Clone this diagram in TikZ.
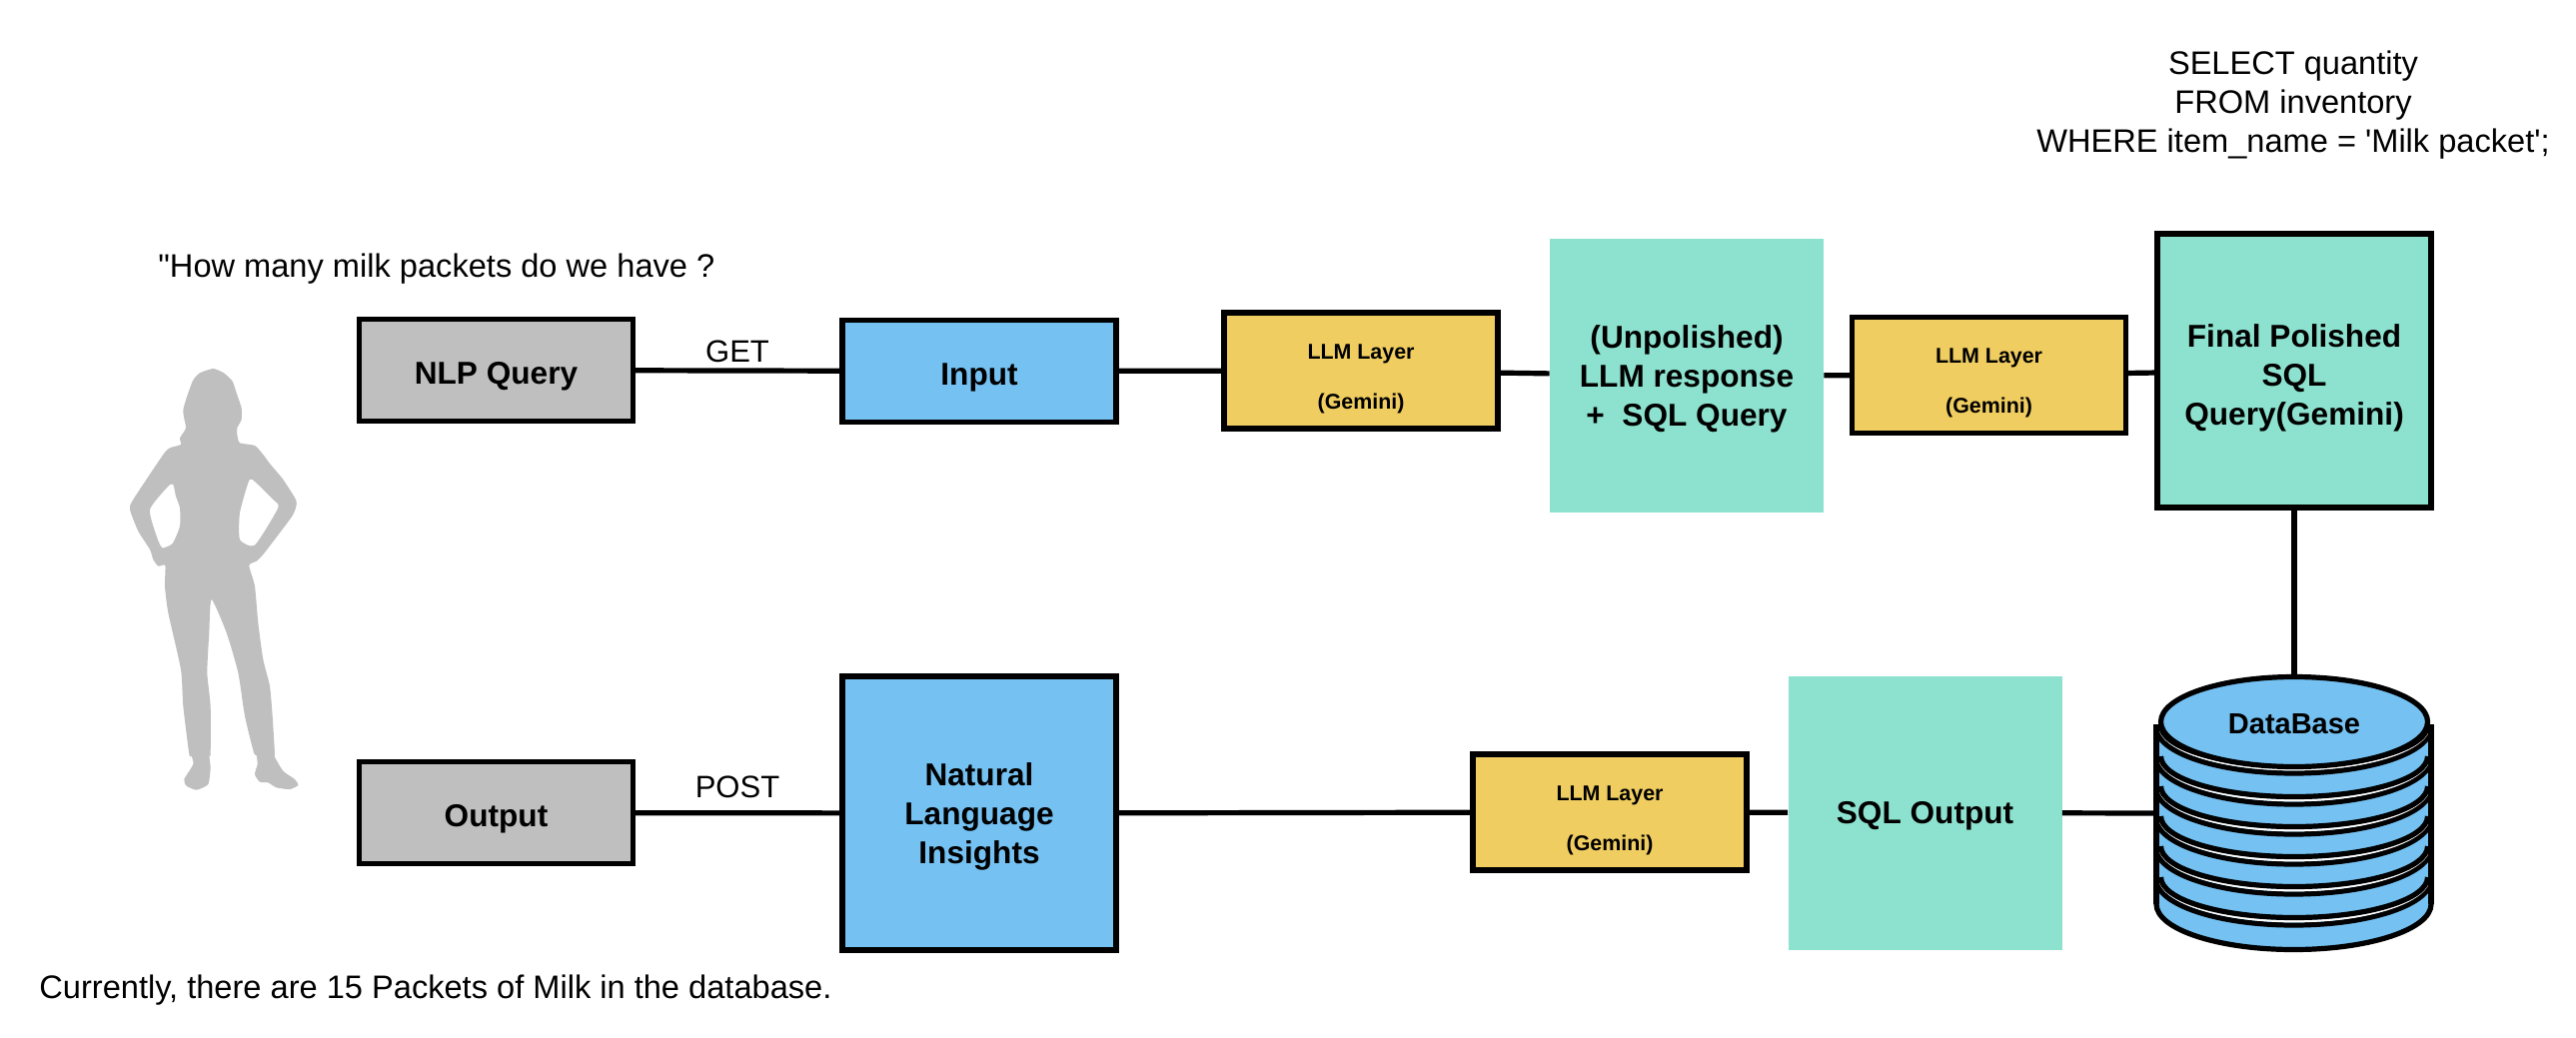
\documentclass[tikz,border=0pt]{standalone}
\usepackage{fontspec}
\setmainfont{Liberation Sans}[Ligatures=TeXOff]
\usetikzlibrary{shapes.geometric}

\definecolor{boxgray}{HTML}{BFBFBF}
\definecolor{boxblue}{HTML}{74C1F2}
\definecolor{boxyellow}{HTML}{EFCD60}
\definecolor{boxteal}{HTML}{8DE2CF}

\begin{document}
\begin{tikzpicture}[x=0.5pt,y=-0.5pt,
    wire/.style={line width=2.6pt},
    nudged/.style={execute at begin node={\rule{0pt}{#1}}},
    plainbox/.style={rectangle,draw=black,line width=2.6pt,inner sep=0pt,align=center,text depth=0pt,font=\fontsize{15.8}{19.5}\selectfont\bfseries},
    graybox/.style={plainbox,fill=boxgray,minimum width=137pt,minimum height=51pt,nudged=13.5pt},
    bluebox/.style={plainbox,fill=boxblue,minimum width=137pt,minimum height=51pt},
    llmbox/.style={plainbox,fill=boxyellow,minimum width=137pt,minimum height=58pt,nudged=38pt,font=\fontsize{10.7}{25}\selectfont\bfseries},
    tealbox/.style={rectangle,fill=boxteal,inner sep=0pt,align=center,text depth=0pt,minimum width=137pt,minimum height=137pt,font=\fontsize{15.8}{19.5}\selectfont\bfseries},
    labeltext/.style={inner sep=0pt,align=center,font=\fontsize{16.3}{19.3}\selectfont},
    smalltext/.style={labeltext,font=\fontsize{15.5}{19.3}\selectfont},
    dbdisk/.style={ellipse,draw=black,fill=boxblue,line width=2.6pt,inner sep=0pt,minimum width=133.5pt,minimum height=45pt,nudged=12.5pt,font=\fontsize{14.5}{17}\selectfont\bfseries}]

    % Fix the page to the size of the reference
    \useasboundingbox (0,0) rectangle (2578,1038);

    % Silhouette of the person
    \begin{scope}[shift={(100,340)},x=0.16667pt,y=-0.16667pt]
        \fill[boxgray,even odd rule]
            plot[smooth cycle,tension=0.35] coordinates {
                (340,87) (372,100) (398,125) (410,160) (425,205) (425,240) (412,265) (412,285) (420,310)
                (465,318) (490,345) (510,372) (550,420) (590,485) (580,525) (540,580) (490,645) (470,665)
                (448,678) (465,740) (475,850) (490,960) (510,1040) (518,1130) (525,1245) (522,1248)
                (550,1295) (585,1320) (595,1338) (570,1350) (530,1345) (505,1330) (480,1328) (465,1305)
                (473,1275) (470,1248) (462,1240) (435,1130) (415,1000) (380,880) (335,780) (328,880)
                (322,1000) (332,1100) (332,1245) (328,1250) (332,1285) (325,1335) (290,1352) (260,1340)
                (253,1320) (280,1275) (275,1250) (268,1245) (250,1100) (243,990) (205,820) (195,740)
                (196,678) (175,680) (160,660) (150,630) (115,575) (90,510) (100,480) (190,345) (210,325)
                (243,315) (240,295) (258,265) (250,210) (278,125) (300,100)}
            plot[smooth cycle,tension=0.35] coordinates {
                (220,435) (205,440) (150,510) (170,590) (187,625) (218,612) (240,560) (240,505) (228,470)}
            plot[smooth cycle,tension=0.35] coordinates {
                (458,420) (445,430) (420,520) (420,600) (465,617) (535,505) (520,480)};
    \end{scope}

    % Top row
    \node[graybox] (nlpquery) at (496.5,370.5) {NLP Query};
    \node[bluebox,nudged=13.5pt] (input) at (980,371.5) {Input};
    \node[llmbox] (llma) at (1362,371) {LLM Layer\\(Gemini)};
    \node[tealbox] (unpolished) at (1688,376) {(Unpolished)\\LLM response\\+\ \ SQL Query};
    \node[llmbox] (llmb) at (1990.5,375.5) {LLM Layer\\(Gemini)};
    \node[tealbox,draw=black,line width=2.6pt,nudged=54pt] (finalquery) at (2296,371) {Final Polished\\SQL\\Query(Gemini)};

    % Bottom row
    \node[graybox] (output) at (496.5,813.5) {Output};
    \node[bluebox,minimum height=137pt] (insights) at (980,814) {Natural\\Language\\Insights};
    \node[llmbox] (llmc) at (1611,813) {LLM Layer\\(Gemini)};
    \node[tealbox] (sqloutput) at (1926.5,813.5) {SQL Output};

    % Database drawn from the lowest disk upwards
    \draw[wire,fill=boxblue] (2158,725) -- (2158,905) arc[start angle=180,end angle=0,x radius=137.5,y radius=45.5] -- (2433,725);
    \foreach \dy in {880,849,819,789,759,728} {
        \draw[wire] (2158,\dy) arc[start angle=180,end angle=0,x radius=137.5,y radius=46];
        \draw[white,line width=1.1pt] (2160.8,\dy-2) arc[start angle=180,end angle=0,x radius=135.2,y radius=44.25];
        \draw[wire] (2162.5,\dy-2) arc[start angle=180,end angle=0,x radius=133.5,y radius=40.5];
    }
    \draw[wire] (2158,725) -- (2158,905);
    \draw[wire] (2433,725) -- (2433,905);
    \node[dbdisk] (database) at (2296,722.5) {DataBase};
    \coordinate (dbside) at (2158,814);

    % Connectors
    \draw[wire] (nlpquery) -- (input);
    \draw[wire] (input) -- (llma);
    \draw[wire] (llma) -- (unpolished);
    \draw[wire] (unpolished) -- (llmb);
    \draw[wire] (llmb) -- (finalquery);
    \draw[wire] (finalquery) -- (database);
    \draw[wire] (output) -- (insights);
    \draw[wire] (insights) -- (llmc);
    \draw[wire] (llmc) -- (sqloutput);
    \draw[wire] (sqloutput) -- (dbside);

    % Free texts
    \node[labeltext] (selecttext) at (2295,105) {SELECT quantity\\FROM inventory\\WHERE item\_name = 'Milk packet';};
    \node[labeltext,anchor=west] (questiontext) at (158,269.5) {"How many milk packets do we have ?};
    \node[labeltext,anchor=west] (answertext) at (39,991.5) {Currently, there are 15 Packets of Milk in the database.};
    \node[smalltext] (gettext) at (738,352) {GET};
    \node[smalltext] (posttext) at (738,788) {POST};

\end{tikzpicture}
\end{document}
